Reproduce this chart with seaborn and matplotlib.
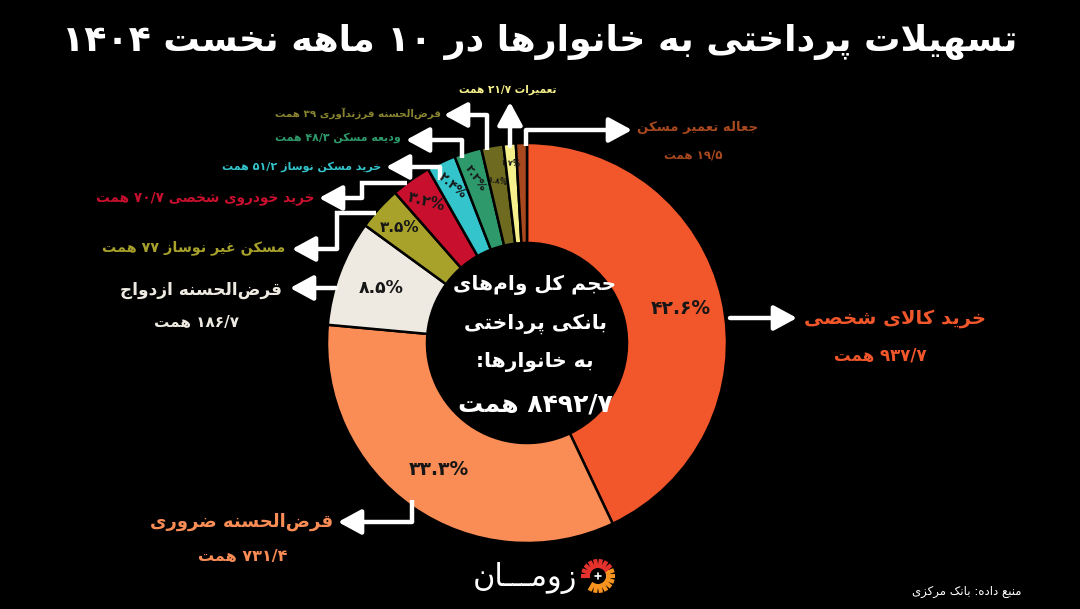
import re
import numpy as np
import matplotlib
matplotlib.use("Agg")
import matplotlib.pyplot as plt
import seaborn as sns
from matplotlib import font_manager
from matplotlib.ft2font import FT2Font

# data (values in همت)
categories = ["خرید کالای شخصی", "قرض‌الحسنه ضروری", "قرض‌الحسنه ازدواج", "مسکن غیر نوساز",
              "خرید خودروی شخصی", "خرید مسکن نوساز", "ودیعه مسکن", "قرض‌الحسنه فرزندآوری",
              "تعمیرات", "جعاله تعمیر مسکن"]
values = [937.7, 731.4, 186.7, 77, 70.7, 51.2, 48.3, 39, 21.7, 19.5]
pct_labels = ["۴۲.۶%", "۳۳.۳%", "۸.۵%", "۳.۵%", "۳.۲%", "۲.۴%", "۲.۲%", "۱.۸%", "۱.۷%", ""]
unit = "همت"
total_label = "۸۴۹۲/۷"
title = "تسهیلات پرداختی به خانوارها در ۱۰ ماهه نخست ۱۴۰۴"
center_lines = ["حجم کل وام‌های", "بانکی پرداختی", "به خانوارها:"]
source = "منبع داده: بانک مرکزی"

slice_colors = ["#F2562B", "#FA8C55", "#EEEAE2", "#A8A22B", "#C8102E",
                "#33C5CB", "#2E9A6C", "#6E6A1F", "#F5F08C", "#A7481E"]
text_colors = ["#F2562B", "#FA8C55", "#EEEAE2", "#A8A22B", "#C8102E",
               "#33C5CB", "#2E9A6C", "#8A8530", "#F5F08C", "#A7481E"]

# ---------- minimal Persian shaping (no arabic_reshaper available) ----------
FORMS = {
    'ا': (0xFE8D, 0xFE8E, None, None), 'آ': (0xFE81, 0xFE82, None, None),
    'ب': (0xFE8F, 0xFE90, 0xFE91, 0xFE92), 'پ': (0xFB56, 0xFB57, 0xFB58, 0xFB59),
    'ت': (0xFE95, 0xFE96, 0xFE97, 0xFE98), 'ث': (0xFE99, 0xFE9A, 0xFE9B, 0xFE9C),
    'ج': (0xFE9D, 0xFE9E, 0xFE9F, 0xFEA0), 'چ': (0xFB7A, 0xFB7B, 0xFB7C, 0xFB7D),
    'ح': (0xFEA1, 0xFEA2, 0xFEA3, 0xFEA4), 'خ': (0xFEA5, 0xFEA6, 0xFEA7, 0xFEA8),
    'د': (0xFEA9, 0xFEAA, None, None), 'ذ': (0xFEAB, 0xFEAC, None, None),
    'ر': (0xFEAD, 0xFEAE, None, None), 'ز': (0xFEAF, 0xFEB0, None, None),
    'ژ': (0xFB8A, 0xFB8B, None, None),
    'س': (0xFEB1, 0xFEB2, 0xFEB3, 0xFEB4), 'ش': (0xFEB5, 0xFEB6, 0xFEB7, 0xFEB8),
    'ص': (0xFEB9, 0xFEBA, 0xFEBB, 0xFEBC), 'ض': (0xFEBD, 0xFEBE, 0xFEBF, 0xFEC0),
    'ط': (0xFEC1, 0xFEC2, 0xFEC3, 0xFEC4), 'ظ': (0xFEC5, 0xFEC6, 0xFEC7, 0xFEC8),
    'ع': (0xFEC9, 0xFECA, 0xFECB, 0xFECC), 'غ': (0xFECD, 0xFECE, 0xFECF, 0xFED0),
    'ف': (0xFED1, 0xFED2, 0xFED3, 0xFED4), 'ق': (0xFED5, 0xFED6, 0xFED7, 0xFED8),
    'ک': (0xFB8E, 0xFB8F, 0xFB90, 0xFB91), 'گ': (0xFB92, 0xFB93, 0xFB94, 0xFB95),
    'ل': (0xFEDD, 0xFEDE, 0xFEDF, 0xFEE0), 'م': (0xFEE1, 0xFEE2, 0xFEE3, 0xFEE4),
    'ن': (0xFEE5, 0xFEE6, 0xFEE7, 0xFEE8), 'و': (0xFEED, 0xFEEE, None, None),
    'ه': (0xFEE9, 0xFEEA, 0xFEEB, 0xFEEC), 'ی': (0xFBFC, 0xFBFD, 0xFBFE, 0xFBFF),
    'ـ': (0x640, 0x640, 0x640, 0x640),
}
LAM_ALEF = {'ا': (0xFEFB, 0xFEFC), 'آ': (0xFEF5, 0xFEF6)}
FALLBACK = {0xFBFC: 0xFEEF, 0xFBFD: 0xFEF0, 0xFBFE: 0xFEF3, 0xFBFF: 0xFEF4,
            0xFB8E: 0xFED9, 0xFB8F: 0xFEDA, 0xFB90: 0xFEDB, 0xFB91: 0xFEDC,
            0xFB92: 0xFED9, 0xFB93: 0xFEDA, 0xFB94: 0xFEDB, 0xFB95: 0xFEDC,
            0xFB56: 0xFE8F, 0xFB57: 0xFE90, 0xFB58: 0xFE91, 0xFB59: 0xFE92,
            0xFB7A: 0xFE9D, 0xFB7B: 0xFE9E, 0xFB7C: 0xFE9F, 0xFB7D: 0xFEA0,
            0xFB8A: 0xFEAF, 0xFB8B: 0xFEB0}
for d in range(10):
    FALLBACK[0x06F0 + d] = 0x0660 + d

FONT = "DejaVu Sans"
_path = font_manager.findfont(font_manager.FontProperties(family=FONT, weight="bold"))
CMAP = FT2Font(_path).get_charmap()


def shape(text):
    out, prev_join, i = [], False, 0
    while i < len(text):
        c = text[i]
        if c not in FORMS:
            out.append(c)
            prev_join = False
            i += 1
            continue
        if c == 'ل' and i + 1 < len(text) and text[i + 1] in LAM_ALEF:
            iso, fin = LAM_ALEF[text[i + 1]]
            out.append(chr(fin if prev_join else iso))
            prev_join = False
            i += 2
            continue
        iso, fin, ini, med = FORMS[c]
        nxt = text[i + 1] if i + 1 < len(text) else None
        join_next = ini is not None and nxt in FORMS
        if prev_join and join_next:
            g = med
        elif prev_join:
            g = fin
        elif join_next:
            g = ini
        else:
            g = iso
        out.append(chr(g))
        prev_join = join_next
        i += 1
    s = ''.join(out).replace('\u200c', '')
    return ''.join(ch if ord(ch) in CMAP or ord(ch) not in FALLBACK else chr(FALLBACK[ord(ch)])
                   for ch in s)


def fa(text):
    s = shape(text)
    runs = re.findall(r'[0-9\u0660-\u0669\u06F0-\u06F9./%]+|[^0-9\u0660-\u0669\u06F0-\u06F9./%]+', s)
    vis = []
    for r in reversed(runs):
        vis.append(r if re.match(r'[0-9\u0660-\u0669\u06F0-\u06F9./%]', r) else r[::-1])
    return ''.join(vis)


def fa_num(v):
    s = f"{v:g}".replace('.', '/')
    return s.translate(str.maketrans("0123456789", "۰۱۲۳۴۵۶۷۸۹"))


# ---------- figure ----------
sns.set_theme(style="dark", rc={"figure.facecolor": "black", "axes.facecolor": "black"})
plt.rcParams["font.family"] = [FONT]

fig = plt.figure(figsize=(10.8, 6.09), dpi=100)
ax = fig.add_axes([0, 0, 1, 1])
palette = sns.color_palette(slice_colors)

cx, cy, R = 527, 343, 200
ax.pie(values, colors=palette, startangle=-90, counterclock=True, radius=R, center=(cx, cy),
       wedgeprops=dict(width=100, edgecolor="black", linewidth=1.8))
ax.set_xlim(0, 1080)
ax.set_ylim(609, 0)
ax.set_aspect("equal")
ax.axis("off")

# percentage labels inside wedges
frac = np.array(values) / np.sum(values)
mids = (np.cumsum(frac) - frac / 2) * 360
pct_r = [0.79, 0.77, 0.78, 0.86, 0.87, 0.87, 0.86, 0.82, 0.9, 0.86]
pct_size = [13.5, 13.5, 12.5, 11, 10.5, 9, 8, 5.5, 5.5, 5]
pct_rot = [0, 0, 0, 0, -15, -40, -55, -10, -5, 0]
for lab, m, rr, fs, rot in zip(pct_labels, mids, pct_r, pct_size, pct_rot):
    if not lab:
        continue
    x = cx + R * rr * np.sin(np.radians(m))
    y = cy - R * rr * np.cos(np.radians(m))
    ax.text(x, y, fa(lab), ha="center", va="center", fontsize=fs, fontweight="bold",
            color="#161616", rotation=rot)

# arrows (pixel waypoints, last point is the tip)
routes = [
    [(730, 318), (797, 318)],
    [(412, 500), (412, 522), (338, 522)],
    [(336, 288), (290, 288)],
    [(376, 213), (337, 213), (337, 249), (292, 249)],
    [(407, 183), (362, 183), (362, 198), (319, 198)],
    [(440, 180), (440, 167), (386, 167)],
    [(462, 158), (462, 140), (406, 140)],
    [(487, 150), (487, 115), (444, 115)],
    [(510, 146), (510, 102)],
    [(526, 146), (526, 130), (632, 130)],
]
for route in routes:
    xs, ys = zip(*route)
    if len(route) > 2:
        ax.plot(xs[:-1], ys[:-1], color="white", lw=3.2, solid_joinstyle="miter",
                solid_capstyle="butt")
    ax.annotate("", xy=route[-1], xytext=route[-2],
                arrowprops=dict(arrowstyle="-|>,head_length=0.7,head_width=0.38",
                                color="white", lw=3.2, shrinkA=0, shrinkB=0,
                                mutation_scale=20))

# category labels
label_pos = [
    dict(xy=(895, 318), ha="center", size=14, val=(880, 356), vsize=12),
    dict(xy=(242, 522), ha="center", size=13, val=(243, 557), vsize=11.5),
    dict(xy=(201, 290), ha="center", size=12.2, val=(197, 322), vsize=11),
    dict(xy=(285, 248), ha="right", size=10.3),
    dict(xy=(315, 198), ha="right", size=9.8),
    dict(xy=(381, 167), ha="right", size=8),
    dict(xy=(401, 138), ha="right", size=7.9),
    dict(xy=(441, 113), ha="right", size=7.5),
    dict(xy=(508, 90), ha="center", size=7.6),
    dict(xy=(698, 128), ha="center", size=9.5, val=(693, 155), vsize=8.5),
]
for name, v, col, lp in zip(categories, values, text_colors, label_pos):
    if "val" in lp:
        ax.text(*lp["xy"], fa(name), ha=lp["ha"], va="center", fontsize=lp["size"],
                fontweight="bold", color=col)
        ax.text(*lp["val"], fa(f"{fa_num(v)} {unit}"), ha="center", va="center",
                fontsize=lp["vsize"], fontweight="bold", color=col)
    else:
        ax.text(*lp["xy"], fa(f"{name} {fa_num(v)} {unit}"), ha=lp["ha"], va="center",
                fontsize=lp["size"], fontweight="bold", color=col)

# centre text
for k, line in enumerate(center_lines):
    ax.text(535, 285 + k * 38.5, fa(line), ha="center", va="center", fontsize=14.5,
            fontweight="bold", color="white")
ax.text(535, 405, fa(f"{total_label} {unit}"), ha="center", va="center", fontsize=18,
        fontweight="bold", color="white")

# title and source
ax.text(540, 42, fa(title), ha="center", va="center", fontsize=26.2, fontweight="bold",
        color="white")
ax.text(1022, 592, fa(source), ha="right", va="center", fontsize=8.5, color="white")

# logo
ax.text(577, 578, fa("زومـــان"), ha="right", va="center", fontsize=22, color="white")
lx, ly = 598, 576
for a in np.arange(-120, 200, 20):
    t = np.radians(a)
    c = "#F7931E" if a < 40 else "#E5322D"
    ax.plot([lx + 8 * np.cos(t), lx + 17 * np.cos(t)], [ly - 8 * np.sin(t), ly - 17 * np.sin(t)],
            color=c, lw=3, solid_capstyle="butt")
ax.plot([lx - 3, lx + 3], [ly, ly], color="white", lw=1.2)
ax.plot([lx, lx], [ly - 3, ly + 3], color="white", lw=1.2)

fig.savefig("out.png", dpi=100, facecolor="black")
